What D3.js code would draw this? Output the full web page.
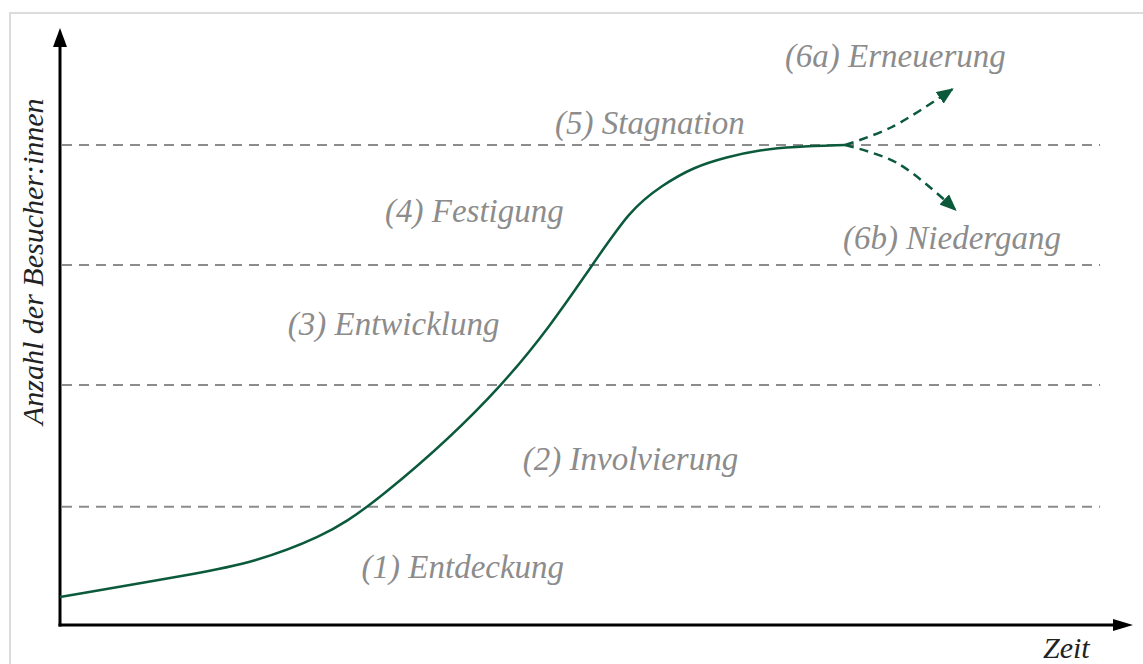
<!DOCTYPE html>
<html><head><meta charset="utf-8">
<script src="https://cdn.jsdelivr.net/npm/d3@7"></script>
<style>html,body{margin:0;padding:0;background:#fff;}svg{display:block;}</style>
</head><body><svg id="c" width="1143" height="664"></svg>
<script>
// Time (0-100) vs visitors (0-100)
const curveX = [0, 13.5, 18.5, 25, 30, 43.2, 51.2, 54.8, 57.9, 60.9, 64.1, 67.3, 70.5, 75.5];
const curveY = [4.67, 8.67, 10.4, 14.5, 19.7, 40, 60, 69.2, 73.3, 76.3, 78, 79.2, 79.7, 80];
const renewalX = [75.5, 80, 85.8];
const renewalY = [80, 83, 89.3];
const declineX = [75.5, 80.5, 86.1];
const declineY = [80, 77, 69.2];
const thresholds = [19.7, 40, 60, 80];
const phaseNames = ["(1) Entdeckung", "(2) Involvierung", "(3) Entwicklung", "(4) Festigung", "(5) Stagnation", "(6a) Erneuerung", "(6b) Niedergang"];
const phaseX = [29, 44.5, 21.9, 31.25, 47.6, 69.7, 75.3];
const phaseY = [7.8, 25.8, 48.3, 67.1, 81.8, 93, 62.7];
const xTitle = "Zeit";
const yTitle = "Anzahl der Besucher:innen";

const svg = d3.select("#c");
const x = d3.scaleLinear().domain([0, 100]).range([60, 1100]);
const y = d3.scaleLinear().domain([0, 100]).range([625, 25]);
const green = "#0c5a3c";
const gray = "#8c8c8c";
const FONT = "'Liberation Serif', 'Times New Roman', serif";

// frame
svg.append("path").attr("d", `M10,664 V13 H1143`).attr("fill", "none").attr("stroke", "#dcdcdc").attr("stroke-width", 2);

const defs = svg.append("defs");
defs.append("marker").attr("id", "ag").attr("viewBox", "0 0 10 10").attr("refX", 9).attr("refY", 5)
  .attr("markerWidth", 17).attr("markerHeight", 14).attr("markerUnits", "userSpaceOnUse").attr("orient", "auto")
  .attr("preserveAspectRatio", "none")
  .append("path").attr("d", "M0,0 L10,5 L0,10 Z").attr("fill", green);

// dashed thresholds
svg.selectAll("line.th").data(thresholds).enter().append("line").attr("class", "th")
  .attr("x1", x(0) + 2).attr("x2", x(100)).attr("y1", d => y(d)).attr("y2", d => y(d))
  .attr("stroke", gray).attr("stroke-width", 2).attr("stroke-dasharray", "10,7");

// axes
svg.append("line").attr("x1", x(0)).attr("x2", x(0)).attr("y1", y(0) + 1.5).attr("y2", 46)
  .attr("stroke", "#000").attr("stroke-width", 3);
svg.append("path").attr("d", `M${x(0)},28 L${x(0) + 7},47 L${x(0) - 7},47 Z`).attr("fill", "#000");
svg.append("line").attr("x1", x(0) - 1.5).attr("x2", 1114).attr("y1", y(0)).attr("y2", y(0))
  .attr("stroke", "#000").attr("stroke-width", 3);
svg.append("path").attr("d", `M1133,${y(0)} L1113,${y(0) - 6} L1113,${y(0) + 6} Z`).attr("fill", "#000");

// curve
const pts = curveX.map((d, i) => [d, curveY[i]]);
const line = d3.line().x(d => x(d[0])).y(d => y(d[1])).curve(d3.curveBasis);
svg.append("path").attr("d", line(pts)).attr("fill", "none").attr("stroke", green).attr("stroke-width", 2.5);

const bline = d3.line().x(d => x(d[0])).y(d => y(d[1])).curve(d3.curveCatmullRom.alpha(0.5));
[[renewalX, renewalY], [declineX, declineY]].forEach(([bx, by]) => {
  svg.append("path").attr("d", bline(bx.map((d, i) => [d, by[i]])))
    .attr("fill", "none").attr("stroke", green).attr("stroke-width", 2.5)
    .attr("stroke-dasharray", "9,6").attr("marker-end", "url(#ag)");
});

// labels
svg.selectAll("text.ph").data(phaseNames).enter().append("text").attr("class", "ph")
  .attr("x", (d, i) => x(phaseX[i])).attr("y", (d, i) => y(phaseY[i]))
  .style("font-family", FONT).style("font-style", "italic")
  .style("font-size", "33px").attr("fill", gray).text(d => d);

svg.append("text").attr("x", 1043).attr("y", 658)
  .style("font-family", FONT).style("font-style", "italic")
  .style("font-size", "30px").attr("fill", "#222").text(xTitle);
svg.append("text").attr("transform", "translate(43,425) rotate(-90)")
  .style("font-family", FONT).style("font-style", "italic")
  .style("font-size", "30px").attr("fill", "#222").text(yTitle);
</script></body></html>
